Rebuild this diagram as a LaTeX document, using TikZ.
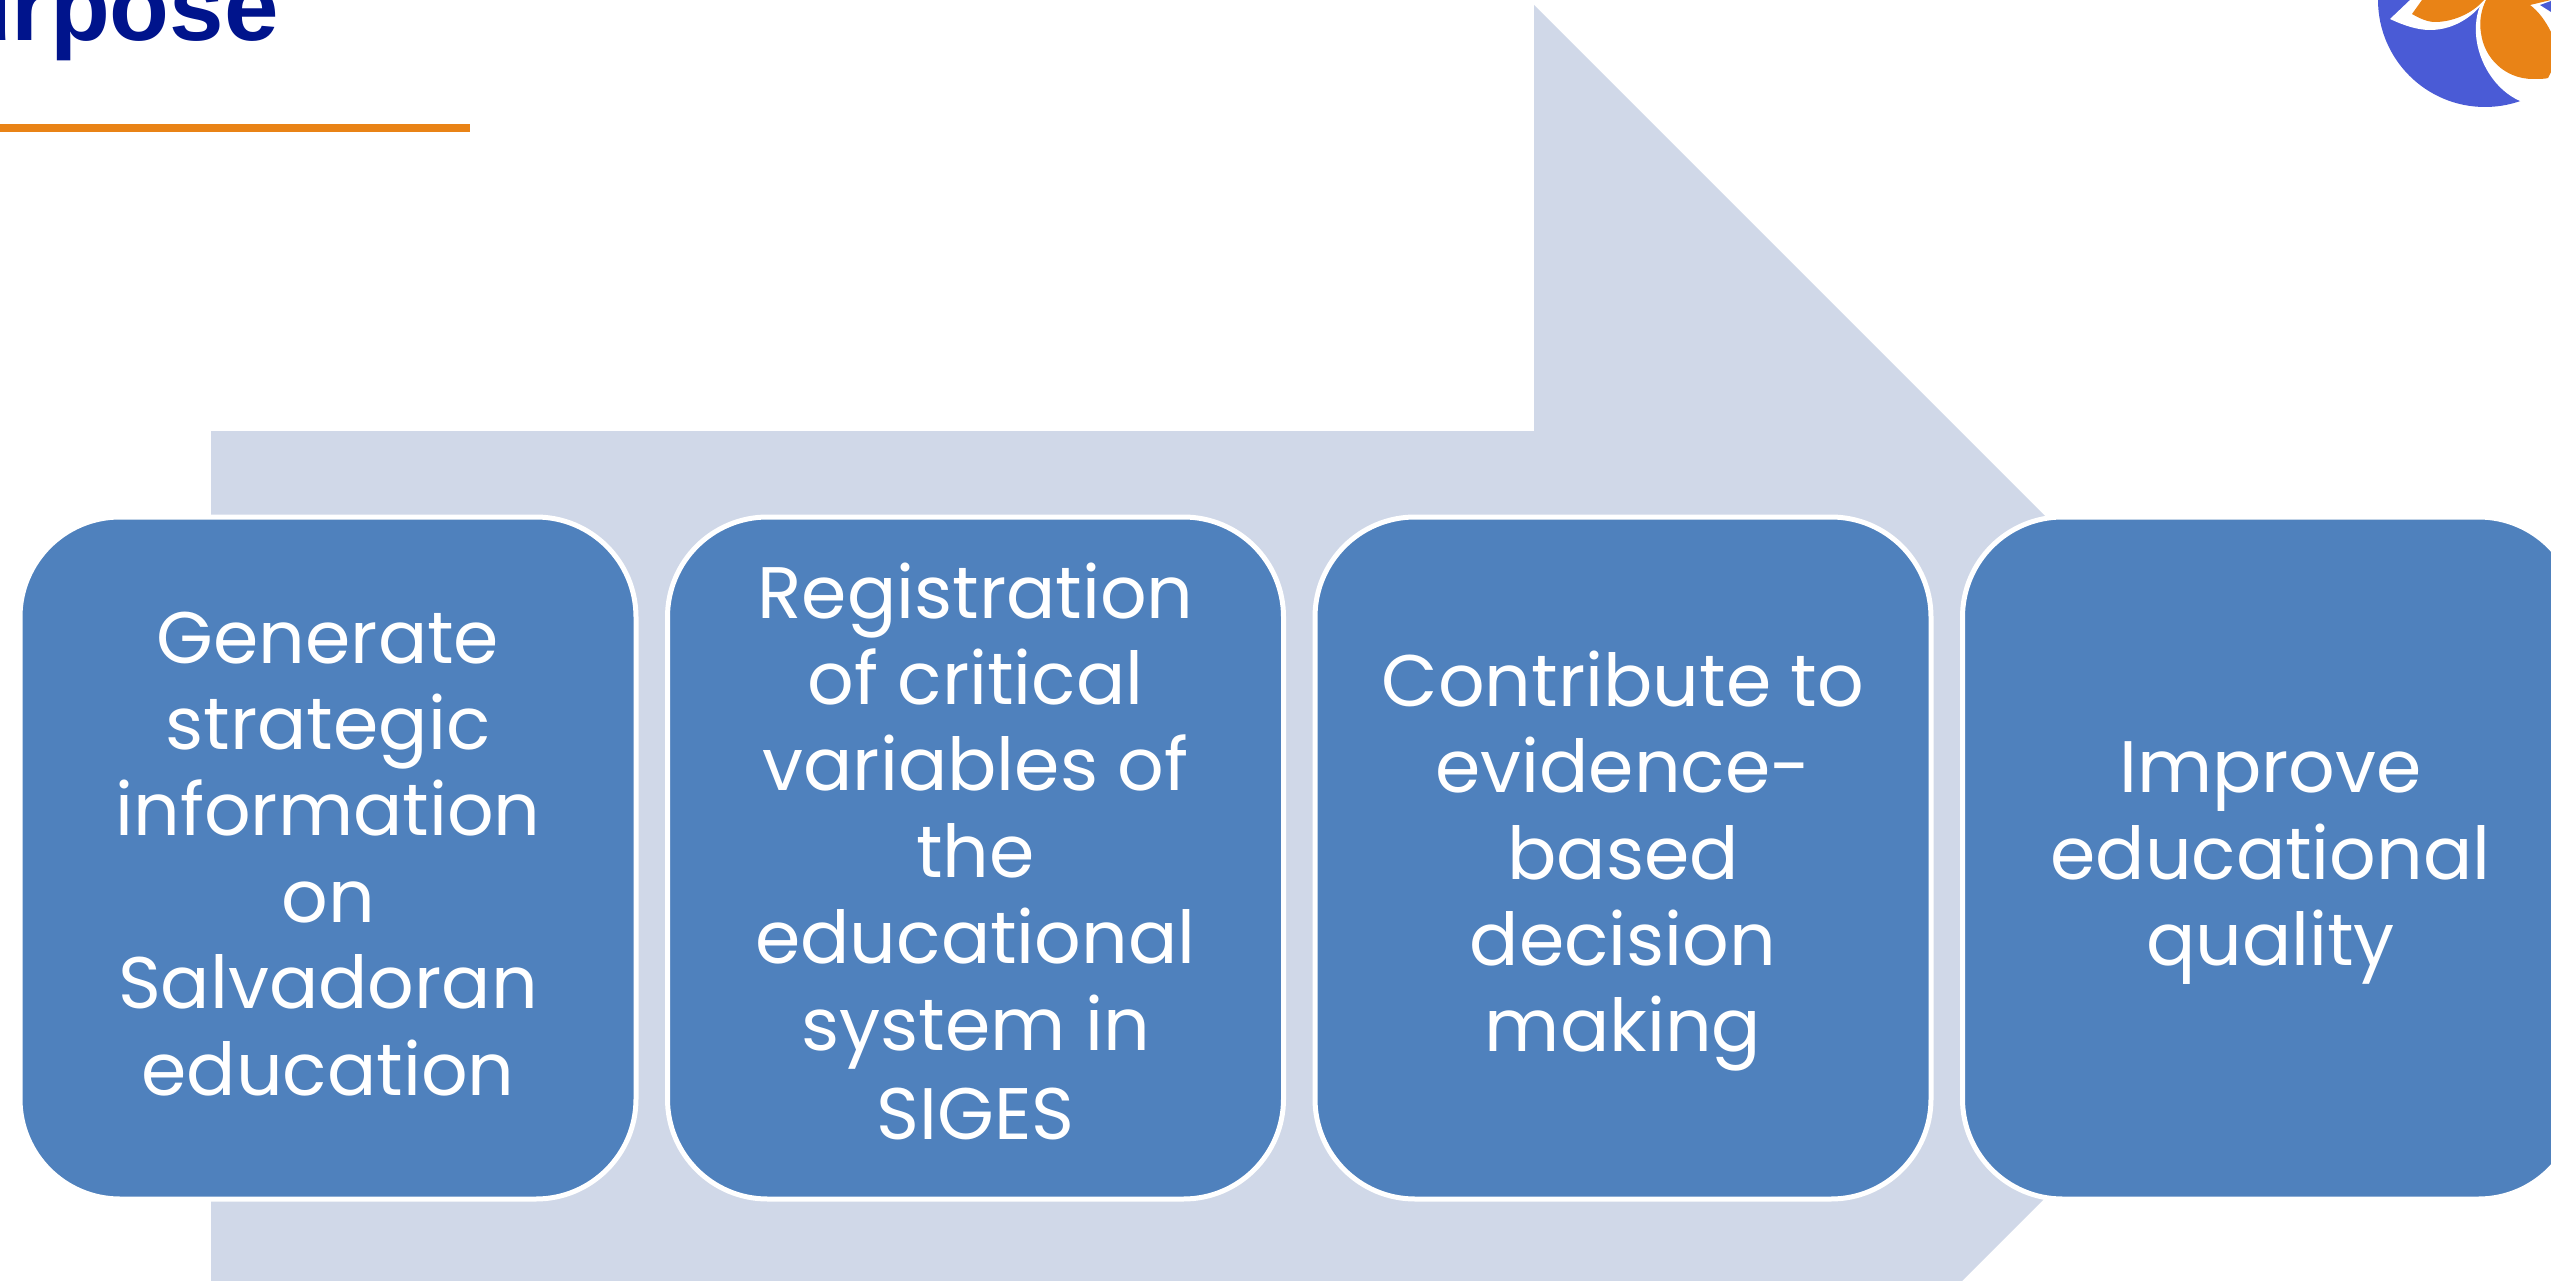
\documentclass[tikz,border=0pt]{standalone}
\usepackage{fontspec}
\setmainfont{Poppins}
\newfontfamily\titlefont{Liberation Sans}[BoldFont=* Bold]
\definecolor{boxblue}{HTML}{4F81BD}
\definecolor{arrowfill}{HTML}{D0D8E8}
\definecolor{rust}{HTML}{E98316}
\definecolor{navy}{HTML}{00148C}
\definecolor{logoblue}{HTML}{4A5BD6}
\newcommand{\mystrutline}{\rule[-28pt]{0pt}{98pt}}
\tikzset{
  stagebox/.style={draw=white,line width=5pt,fill=boxblue,rounded corners=100pt,
    minimum width=616pt,minimum height=682pt,inner sep=0pt,outer sep=0pt,
    text=white,align=center,font=\fontsize{73}{86.4}\selectfont},
  logopetal/.style={fill=rust,draw=none},
  logowhite/.style={fill=white,draw=none}
}
\begin{document}
\begin{tikzpicture}[x=1pt,y=-1pt]
\useasboundingbox (0,0) rectangle (2551,1281);
\clip (0,0) rectangle (2551,1281);
\fill[white] (0,0) rectangle (2551,1281);
% big arrow
\fill[arrowfill] (211,431) -- (1534,431) -- (1534,5) -- (2386,857) -- (1962,1281) -- (1962,1283) -- (211,1283) -- cycle;
% boxes
\node[stagebox] (b1) at (328,858) {\mystrutline Generate\\strategic\\information\\on\\Salvadoran\\education\mystrutline};
\node[stagebox] (b2) at (975.5,858) {\mystrutline Registration\\of critical\\variables of\\the\\educational\\system in\\SIGES\mystrutline};
\node[stagebox] (b3) at (1623,858) {\mystrutline Contribute to\\evidence-\\based\\decision\\making\mystrutline};
\node[stagebox] (b4) at (2270.5,858) {\mystrutline Improve\\educational\\quality\mystrutline};
% title
\node[anchor=base east,inner sep=0pt,text=navy,font=\titlefont\bfseries\fontsize{98}{98}\selectfont] (title) at (279,41) {Purpose};
\fill[rust] (0,124) rectangle (470,132);
% logo
\fill[logoblue] (2485,0) circle (107);
\fill[logowhite] (2390,19) .. controls (2405,26) and (2418,30) .. (2430,30) .. controls (2455,30) and (2475,15) .. (2485,0) -- (2410,0) -- cycle;
\fill[logowhite] (2520,101) .. controls (2495,90) and (2478,62) .. (2476,35) .. controls (2475,20) and (2478,8) .. (2483,0) -- (2551,0) -- (2551,110) -- (2540,110) -- cycle;
\fill[logopetal] (2412,14) -- (2422,0) -- (2484,0) .. controls (2472,14) and (2452,22) .. (2435,22) .. controls (2427,22) and (2419,18) .. (2412,14) -- cycle;
\fill[logopetal] (2486,0) .. controls (2481,10) and (2479,22) .. (2481,33) .. controls (2484,58) and (2505,79) .. (2533,79) .. controls (2539,79) and (2545,79) .. (2548,78) -- (2551,72) -- (2551,32) .. controls (2545,20) and (2538,11) .. (2530,5) -- (2551,0) -- cycle;
\fill[logoblue] (2540,5) -- (2551,1) -- (2551,12) -- cycle;
\end{tikzpicture}
\end{document}
